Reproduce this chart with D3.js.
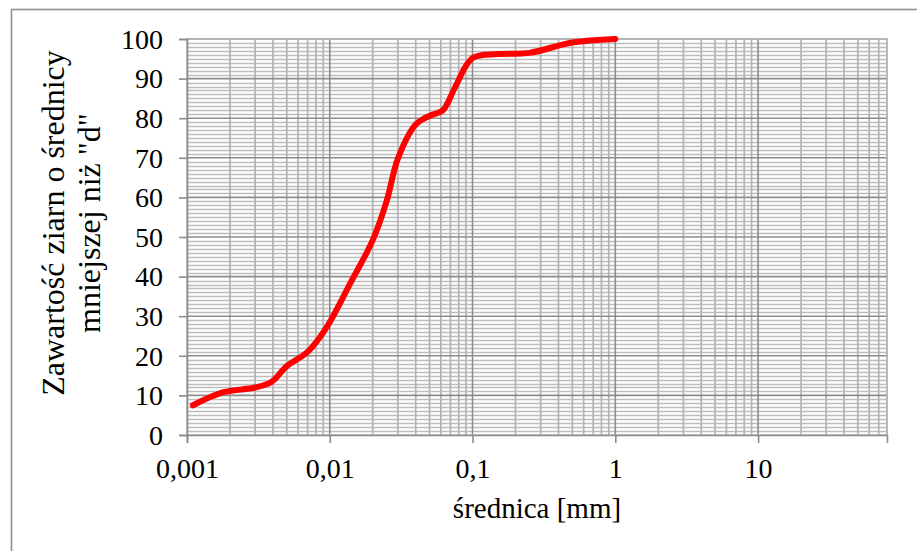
<!DOCTYPE html>
<html>
<head>
<meta charset="utf-8">
<script src="https://cdn.jsdelivr.net/npm/d3@7"></script>
</head>
<body style="margin:0;background:#ffffff">
<svg id="chart" width="917" height="551" style="display:block"></svg>
<script>
// Grain size distribution: diameter [mm] vs. percentage finer
const diameters = [0.0011, 0.0018, 0.003, 0.0039, 0.005, 0.007, 0.0095, 0.014, 0.02, 0.025, 0.03, 0.04, 0.05, 0.062, 0.075, 0.1, 0.15, 0.25, 0.5, 1];
const passing   = [7.5,    10.8,   12.0,  13.4,   17.4,  21.0,  27.2,   38.5,  49.2, 59.0,  69.8, 78.4, 80.6, 82.0,  87.6,  95.2, 96.2, 96.5, 99.1, 100];

const xTickValues = [0.001, 0.01, 0.1, 1, 10];
const xTickLabels = ["0,001", "0,01", "0,1", "1", "10"];
const yTickValues = [0, 10, 20, 30, 40, 50, 60, 70, 80, 90, 100];

const xTitle = "średnica [mm]";
const yTitleLines = ["Zawartość ziarn o średnicy", "mniejszej niż \"d\""];

const serif = "\"Liberation Serif\"";

const svg = d3.select("#chart");

// outer chart frame
svg.append("rect")
  .attr("x", 11.5).attr("y", 9.5)
  .attr("width", 920).attr("height", 560)
  .attr("fill", "none").attr("stroke", "#8f8f8f").attr("stroke-width", 1.6);

const x = d3.scaleLog().domain([0.001, 80]).range([187, 887]);
const y = d3.scaleLinear().domain([0, 100]).range([435, 39]);

const grid = svg.append("g");

// minor horizontal grid, every 1 %
grid.selectAll("line.hmin")
  .data(y.ticks(100).filter(v => v % 10 !== 0))
  .join("line")
  .attr("x1", x.range()[0]).attr("x2", x.range()[1])
  .attr("y1", d => Math.round(y(d)) + 0.5).attr("y2", d => Math.round(y(d)) + 0.5)
  .attr("stroke", "#bdbdbd").attr("stroke-width", 1.3);

// minor vertical grid, 2..9 in every decade
const minorX = [];
xTickValues.forEach(dec => { for (let m = 2; m <= 9; m++) { const v = dec * m; if (v <= 80 + 1e-9) minorX.push(v); } });
grid.selectAll("line.vmin")
  .data(minorX)
  .join("line")
  .attr("x1", d => x(d)).attr("x2", d => x(d))
  .attr("y1", y.range()[0]).attr("y2", y.range()[1])
  .attr("stroke", "#b3b3b3").attr("stroke-width", 1.7);

// major horizontal grid
grid.selectAll("line.hmaj")
  .data(yTickValues.filter(v => v > 0))
  .join("line")
  .attr("x1", x.range()[0]).attr("x2", x.range()[1])
  .attr("y1", d => y(d)).attr("y2", d => y(d))
  .attr("stroke", "#8c8c8c").attr("stroke-width", 1.6);

// major vertical grid
grid.selectAll("line.vmaj")
  .data(xTickValues.slice(1))
  .join("line")
  .attr("x1", d => x(d)).attr("x2", d => x(d))
  .attr("y1", y.range()[0]).attr("y2", y.range()[1])
  .attr("stroke", "#8c8c8c").attr("stroke-width", 1.6);

// plot area border (top / right)
svg.append("rect")
  .attr("x", x.range()[0]).attr("y", y.range()[1])
  .attr("width", x.range()[1] - x.range()[0]).attr("height", y.range()[0] - y.range()[1])
  .attr("fill", "none").attr("stroke", "#b8b8b8").attr("stroke-width", 1.6);

// axes
const xAxis = svg.append("g")
  .attr("transform", `translate(0,${y(0)})`)
  .call(d3.axisBottom(x).tickValues(xTickValues)
    .tickFormat((d, i) => xTickLabels[i]).tickSize(8).tickPadding(15));
const yAxis = svg.append("g")
  .attr("transform", `translate(${x.range()[0]},0)`)
  .call(d3.axisLeft(y).tickValues(yTickValues).tickSize(8).tickPadding(16));

[xAxis, yAxis].forEach(a => {
  a.attr("font-family", serif).attr("font-size", 28);
  a.select(".domain").attr("stroke", "#8c8c8c").attr("stroke-width", 1.6);
  a.selectAll(".tick line").attr("stroke", "#8c8c8c").attr("stroke-width", 1.6);
  a.selectAll(".tick text")
    .attr("font-family", serif)
    .attr("font-size", 28).attr("fill", "#000");
});
yAxis.selectAll(".tick text").attr("dy", "0.33em");
xAxis.selectAll(".tick text").attr("dy", "0.71em");

// distribution curve
const line = d3.line()
  .x((d, i) => x(diameters[i]))
  .y(d => y(d))
  .curve(d3.curveCatmullRom.alpha(0.5));

svg.append("path")
  .datum(passing)
  .attr("d", line)
  .attr("fill", "none")
  .attr("stroke", "#ff0000")
  .attr("stroke-width", 6)
  .attr("stroke-linecap", "round")
  .attr("stroke-linejoin", "round");

// axis titles
svg.append("text")
  .attr("x", (x.range()[0] + x.range()[1]) / 2).attr("y", 518)
  .attr("text-anchor", "middle")
  .attr("font-family", serif)
  .attr("font-size", 29)
  .attr("fill", "#000")
  .text(xTitle);

const yt = svg.append("text")
  .attr("transform", "translate(64,223) rotate(-90)")
  .attr("text-anchor", "middle")
  .attr("font-family", serif)
  .attr("font-size", 32)
  .attr("fill", "#000");
yTitleLines.forEach((t, i) => {
  yt.append("tspan").attr("x", 0).attr("y", i * 36).text(t);
});
</script>
</body>
</html>
